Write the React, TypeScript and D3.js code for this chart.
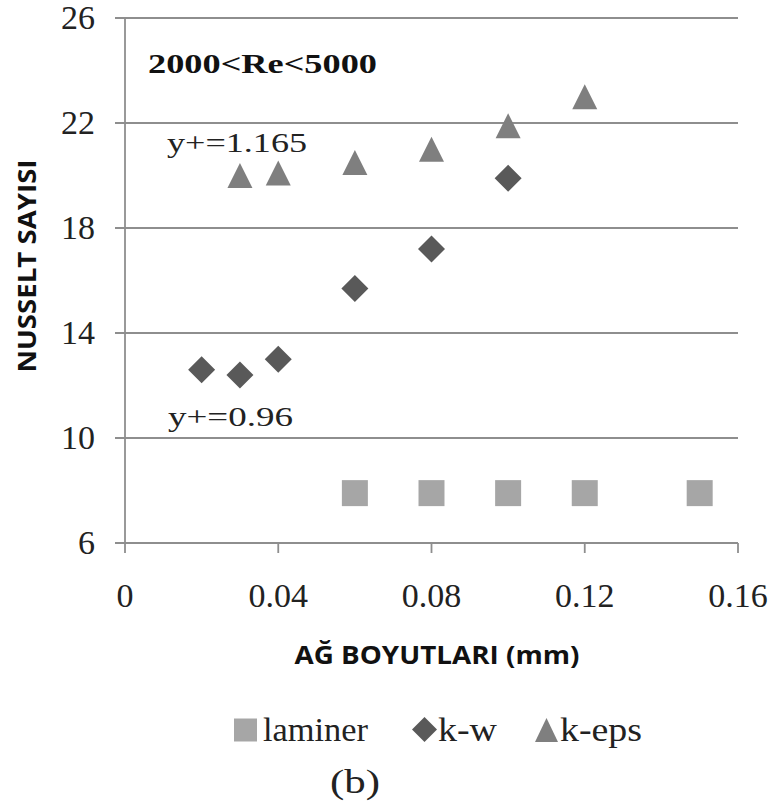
import React from "react";
import * as d3 from "d3";

// Mesh size (mm) and Nusselt number for each model
const laminerX = [0.06, 0.08, 0.1, 0.12, 0.15];
const laminerY = [7.9, 7.9, 7.9, 7.9, 7.9];
const kwX = [0.02, 0.03, 0.04, 0.06, 0.08, 0.1];
const kwY = [12.6, 12.4, 13.0, 15.7, 17.2, 19.9];
const kepsX = [0.03, 0.04, 0.06, 0.08, 0.1, 0.12];
const kepsY = [20.0, 20.1, 20.5, 21.0, 21.9, 23.0];

const xTicks = [0, 0.04, 0.08, 0.12, 0.16];
const xTickLabels = ["0", "0.04", "0.08", "0.12", "0.16"];
const yTicks = [6, 10, 14, 18, 22, 26];

const W = 778;
const H = 807;
const plot = { left: 125, right: 738, top: 18, bottom: 543 };

const x = d3.scaleLinear().domain([0, 0.16]).range([plot.left, plot.right]);
const y = d3.scaleLinear().domain([6, 26]).range([plot.bottom, plot.top]);

const serif = "'Liberation Serif', 'Times New Roman', serif";
const sans = "'Open Sans', 'Liberation Sans', sans-serif";

const squarePath = (s: number) => `M${-s / 2},${-s / 2}h${s}v${s}h${-s}Z`;
const diamondPath = (w: number) =>
  `M0,${-w / 2}L${w / 2},0L0,${w / 2}L${-w / 2},0Z`;
const trianglePath = (w: number, h: number) =>
  `M0,${-h / 2}L${w / 2},${h / 2}L${-w / 2},${h / 2}Z`;

const C_LAM = "#a6a6a6";
const C_KW = "#595959";
const C_KEPS = "#7f7f7f";
const GRID = "#8e8e8e";

export default function App() {
  return (
    <svg
      width={W}
      height={H}
      style={{ position: "absolute", left: 0, top: 0, background: "#fff" }}
    >
      {/* horizontal gridlines with short ticks left of the axis */}
      {yTicks.map((t) => (
        <g key={"gy" + t}>
          <line
            x1={plot.left - 10}
            x2={plot.right}
            y1={y(t)}
            y2={y(t)}
            stroke={GRID}
            strokeWidth={1.8}
          />
          <text
            x={plot.left - 30}
            y={y(t) + 11}
            textAnchor="end"
            fontFamily={serif}
            fontSize={34}
            fill="#222"
          >
            {t}
          </text>
        </g>
      ))}
      {/* y axis line */}
      <line
        x1={plot.left}
        x2={plot.left}
        y1={plot.top}
        y2={plot.bottom}
        stroke={GRID}
        strokeWidth={1.8}
      />
      {/* x ticks and labels */}
      {xTicks.map((t, i) => (
        <g key={"gx" + t}>
          <line
            x1={x(t)}
            x2={x(t)}
            y1={plot.bottom}
            y2={plot.bottom + 10}
            stroke={GRID}
            strokeWidth={1.8}
          />
          <text
            x={x(t)}
            y={plot.bottom + 64}
            textAnchor="middle"
            fontFamily={serif}
            fontSize={34}
            fill="#222"
          >
            {xTickLabels[i]}
          </text>
        </g>
      ))}

      {/* series markers */}
      {laminerX.map((v, i) => (
        <path
          key={"l" + i}
          d={squarePath(26)}
          transform={`translate(${x(v)},${y(laminerY[i])})`}
          fill={C_LAM}
        />
      ))}
      {kwX.map((v, i) => (
        <path
          key={"k" + i}
          d={diamondPath(27)}
          transform={`translate(${x(v)},${y(kwY[i])})`}
          fill={C_KW}
        />
      ))}
      {kepsX.map((v, i) => (
        <path
          key={"e" + i}
          d={trianglePath(25, 25)}
          transform={`translate(${x(v)},${y(kepsY[i])})`}
          fill={C_KEPS}
        />
      ))}

      {/* annotations */}
      <text
        x={148}
        y={73}
        fontFamily={serif}
        fontWeight="bold"
        fontSize={27}
        textLength={229}
        lengthAdjust="spacingAndGlyphs"
        fill="#111"
      >
        2000&lt;Re&lt;5000
      </text>
      <text
        x={167}
        y={152}
        fontFamily={serif}
        fontSize={27}
        textLength={140}
        lengthAdjust="spacingAndGlyphs"
        fill="#222"
      >
        y+=1.165
      </text>
      <text
        x={168}
        y={426}
        fontFamily={serif}
        fontSize={28}
        textLength={125}
        lengthAdjust="spacingAndGlyphs"
        fill="#222"
      >
        y+=0.96
      </text>

      {/* axis titles */}
      <text
        x={437}
        y={664}
        textAnchor="middle"
        fontFamily={sans}
        fontWeight="bold"
        fontSize={25}
        textLength={285}
        lengthAdjust="spacingAndGlyphs"
        fill="#111"
      >
        AĞ BOYUTLARI (mm)
      </text>
      <text
        transform={`translate(36,266) rotate(-90)`}
        textAnchor="middle"
        fontFamily={sans}
        fontWeight="bold"
        fontSize={25}
        textLength={213}
        lengthAdjust="spacingAndGlyphs"
        fill="#111"
      >
        NUSSELT SAYISI
      </text>

      {/* legend */}
      <g fontFamily={serif} fontSize={33} fill="#222">
        <path d={squarePath(23)} transform="translate(245.5,730)" fill={C_LAM} />
        <text x={263} y={741} textLength={105} lengthAdjust="spacingAndGlyphs">
          laminer
        </text>
        <path d={diamondPath(25)} transform="translate(424.5,729.5)" fill={C_KW} />
        <text x={438} y={741} textLength={59} lengthAdjust="spacingAndGlyphs">
          k-w
        </text>
        <path
          d={trianglePath(23, 24)}
          transform="translate(546.5,730)"
          fill={C_KEPS}
        />
        <text x={560} y={741} textLength={82} lengthAdjust="spacingAndGlyphs">
          k-eps
        </text>
        <text
          x={330}
          y={793}
          fontSize={34}
          textLength={50}
          lengthAdjust="spacingAndGlyphs"
        >
          (b)
        </text>
      </g>
    </svg>
  );
}
